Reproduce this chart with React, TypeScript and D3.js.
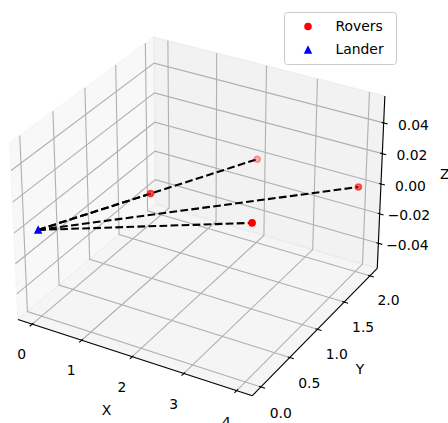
import React from 'react';
import * as d3 from 'd3';

const W = 448;
const H = 423;

// ---- data ----
const roverX = [1, 2, 3, 4];
const roverY = [1, 2, 1, 2];
const roverZ = [0, 0, 0, 0];
const landerX = [0];
const landerY = [0];
const landerZ = [0];
const xTicks = [0, 1, 2, 3, 4];
const yTicks = [0, 0.5, 1, 1.5, 2];
const zTicks = [-0.04, -0.02, 0, 0.02, 0.04];
const legendLabels = ['Rovers', 'Lander'];
const axisNames = ['X', 'Y', 'Z'];

const fmtX = d3.format('d');
const fmtY = d3.format('.1f');
const fmtZ = d3.format('.2f');

// ---- limits like matplotlib 3D autoscale ----
function limits(vals: number[]): [number, number] {
  let [lo, hi] = d3.extent(vals) as [number, number];
  if (hi - lo < 1e-12) {
    lo -= 0.05;
    hi += 0.05;
  }
  const m = (hi - lo) * 0.05;
  lo -= m;
  hi += m;
  const v = (hi - lo) / 48;
  return [lo - v, hi + v];
}

const xlim = limits([...roverX, ...landerX]);
const ylim = limits([...roverY, ...landerY]);
const zlim = limits([...roverZ, ...landerZ]);

// ---- projection (matplotlib-style perspective) ----
const aspect = [4, 4, 3];
const aNorm = Math.hypot(aspect[0], aspect[1], aspect[2]);
const box = aspect.map((a) => (a * 1.8294640721620434) / aNorm);
const sX = d3.scaleLinear().domain(xlim).range([0, box[0]]);
const sY = d3.scaleLinear().domain(ylim).range([0, box[1]]);
const sZ = d3.scaleLinear().domain(zlim).range([0, box[2]]);
const ELEV = (30 * Math.PI) / 180;
const AZIM = (-60 * Math.PI) / 180;
const DIST = 10;
const Rc = box.map((b) => b / 2);
const ps = [Math.cos(ELEV) * Math.cos(AZIM), Math.cos(ELEV) * Math.sin(AZIM), Math.sin(ELEV)];
const eye = Rc.map((r, i) => r + DIST * ps[i]);
const norm3 = (a: number[]) => {
  const n = Math.hypot(a[0], a[1], a[2]);
  return a.map((x) => x / n);
};
const cross = (a: number[], b: number[]) => [
  a[1] * b[2] - a[2] * b[1],
  a[2] * b[0] - a[0] * b[2],
  a[0] * b[1] - a[1] * b[0],
];
const dot = (a: number[], b: number[]) => a[0] * b[0] + a[1] * b[1] + a[2] * b[2];
const wv = norm3(eye.map((e, i) => e - Rc[i]));
const uv = norm3(cross([0, 0, 1], wv));
const vv = cross(wv, uv);

const AX_LEFT = -22.45;
const AX_TOP = -3.4;
const AX_SIZE = 434.75;
const pX = d3.scaleLinear().domain([-0.095, 0.09]).range([AX_LEFT, AX_LEFT + AX_SIZE]);
const pY = d3.scaleLinear().domain([-0.095, 0.09]).range([AX_TOP + AX_SIZE, AX_TOP]);

function project(x: number, y: number, z: number): [number, number, number] {
  const P = [sX(x), sY(y), sZ(z)];
  const d = P.map((p, i) => p - eye[i]);
  const xv = dot(uv, d);
  const yv = dot(vv, d);
  const zv = dot(wv, d);
  return [pX(xv / -zv), pY(yv / -zv), DIST / zv];
}

const [x0, x1] = xlim;
const [y0, y1] = ylim;
const [z0, z1] = zlim;
const centers = [(x0 + x1) / 2, (y0 + y1) / 2, (z0 + z1) / 2];
const deltas = [(x1 - x0) / 12, (y1 - y0) / 12, (z1 - z0) / 12];

function moveFromCenter(p: number[], f: number, skip: number) {
  return p.map((c, i) => (i === skip ? c : c + Math.sign(c - centers[i]) * f * deltas[i]));
}

const pathOf = (pts: number[][]) =>
  'M' + pts.map((p) => { const q = project(p[0], p[1], p[2]); return `${q[0].toFixed(2)},${q[1].toFixed(2)}`; }).join('L');

const FONT = 'DejaVu Sans';
const FS = 13.9;

export default function App() {
  // panes
  const panes = [
    { pts: [[x0, y0, z0], [x0, y1, z0], [x0, y1, z1], [x0, y0, z1]], c: 'rgba(242,242,242,0.5)' },
    { pts: [[x0, y1, z0], [x1, y1, z0], [x1, y1, z1], [x0, y1, z1]], c: 'rgba(230,230,230,0.5)' },
    { pts: [[x0, y0, z0], [x1, y0, z0], [x1, y1, z0], [x0, y1, z0]], c: 'rgba(236,236,236,0.5)' },
  ];

  // grid lines
  const grid: number[][][] = [];
  xTicks.forEach((t) => grid.push([[t, y0, z0], [t, y1, z0], [t, y1, z1]]));
  yTicks.forEach((t) => grid.push([[x0, t, z1], [x0, t, z0], [x1, t, z0]]));
  zTicks.forEach((t) => grid.push([[x1, y1, t], [x0, y1, t], [x0, y0, t]]));

  // axis lines
  const axisLines = [
    [[x0, y0, z0], [x1, y0, z0]],
    [[x1, y0, z0], [x1, y1, z0]],
    [[x1, y1, z0], [x1, y1, z1]],
  ];

  // ticks
  type TickSpec = { p1: number[]; p2: number[]; lab: number[]; text: string; off: [number, number] };
  const ticks: TickSpec[] = [];
  xTicks.forEach((t) => {
    ticks.push({
      p1: [t, y0 + 0.1 * deltas[1], z0],
      p2: [t, y0 - 0.2 * deltas[1], z0],
      lab: moveFromCenter([t, y0, z0], 0.882, 0),
      text: fmtX(t),
      off: [0, 8],
    });
  });
  yTicks.forEach((t) => {
    ticks.push({
      p1: [x1 - 0.1 * deltas[0], t, z0],
      p2: [x1 + 0.2 * deltas[0], t, z0],
      lab: moveFromCenter([x1, t, z0], 0.882, 1),
      text: fmtY(t),
      off: [2, 7],
    });
  });
  zTicks.forEach((t) => {
    ticks.push({
      p1: [x1 - 0.1 * deltas[0], y1, t],
      p2: [x1 + 0.2 * deltas[0], y1, t],
      lab: moveFromCenter([x1, y1, t], 0.882, 2),
      text: fmtZ(t),
      off: [3.5, 5],
    });
  });

  const axisLabelSpecs = [
    { p: moveFromCenter([(x0 + x1) / 2, y0, z0], 1.917, 0), off: [-3, 4] },
    { p: moveFromCenter([x1, (y0 + y1) / 2, z0], 1.917, 1), off: [5, 1] },
    { p: moveFromCenter([x1, y1, (z0 + z1) / 2], 1.917, 2), off: [7.5, -2] },
  ];

  // data projection
  const rovers = roverX.map((x, i) => project(x, roverY[i], roverZ[i]));
  const tzs = rovers.map((r) => r[2]);
  const tzExt = d3.extent(tzs) as [number, number];
  const alphaScale = d3.scaleLinear().domain(tzExt).range([1, 0.3]);
  const landers = landerX.map((x, i) => project(x, landerY[i], landerZ[i]));

  const lineGen = d3.line<[number, number, number]>().x((d) => d[0]).y((d) => d[1]);

  const R_M = 3.1;
  const triPath = (cx: number, cy: number, s: number) =>
    `M${cx},${cy - s}L${cx - s},${cy + s}L${cx + s},${cy + s}Z`;

  return (
    <svg width={W} height={H} style={{ position: 'absolute', left: 0, top: 0, background: '#fff' }} fontFamily={FONT}>
      <rect x={0} y={0} width={W} height={H} fill="#fff" />
      {panes.map((p, i) => (
        <path key={'pane' + i} d={pathOf(p.pts) + 'Z'} fill={p.c} stroke={p.c} strokeWidth={1.39} />
      ))}
      {grid.map((g, i) => (
        <path key={'g' + i} d={pathOf(g)} fill="none" stroke="#b0b0b0" strokeWidth={1.11} />
      ))}
      {axisLines.map((a, i) => (
        <path key={'ax' + i} d={pathOf(a)} fill="none" stroke="#000" strokeWidth={1.11} />
      ))}
      {ticks.map((t, i) => {
        const a = project(t.p1[0], t.p1[1], t.p1[2]);
        const b = project(t.p2[0], t.p2[1], t.p2[2]);
        const l = project(t.lab[0], t.lab[1], t.lab[2]);
        return (
          <g key={'t' + i}>
            <line x1={a[0]} y1={a[1]} x2={b[0]} y2={b[1]} stroke="#000" strokeWidth={1.11} />
            <text x={l[0] + t.off[0]} y={l[1] + t.off[1] + 5.06} fontSize={FS} textAnchor="middle" fill="#000">
              {t.text}
            </text>
          </g>
        );
      })}
      {axisLabelSpecs.map((s, i) => {
        const l = project(s.p[0], s.p[1], s.p[2]);
        return (
          <text key={'al' + i} x={l[0] + s.off[0]} y={l[1] + s.off[1] + 5.06} fontSize={FS} textAnchor="middle" fill="#000">
            {axisNames[i]}
          </text>
        );
      })}
      {/* dashed connection lines */}
      {rovers.map((r, i) => (
        <path
          key={'ln' + i}
          d={lineGen([landers[0], r]) || ''}
          fill="none"
          stroke="#000"
          strokeWidth={2.08}
          strokeDasharray="7.71,3.33"
        />
      ))}
      {/* rovers */}
      {rovers.map((r, i) => (
        <circle
          key={'rv' + i}
          cx={r[0]}
          cy={r[1]}
          r={R_M}
          fill="#ff0000"
          fillOpacity={alphaScale(r[2])}
          stroke="#ff0000"
          strokeOpacity={alphaScale(r[2])}
          strokeWidth={1.39}
        />
      ))}
      {/* lander */}
      {landers.map((l, i) => (
        <path key={'ld' + i} d={triPath(l[0], l[1], R_M)} fill="#0000ff" stroke="#0000ff" strokeWidth={1.39} />
      ))}
      {/* legend */}
      <g>
        <rect x={284.5} y={12.5} width={112} height={52} rx={2.8} fill="#fff" fillOpacity={0.8} stroke="#cccccc" strokeWidth={1} />
        <circle cx={308} cy={26.5} r={R_M} fill="#ff0000" stroke="#ff0000" strokeWidth={1.39} />
        <path d={triPath(308, 50, R_M)} fill="#0000ff" stroke="#0000ff" strokeWidth={1.39} />
        <text x={335.5} y={30.9} fontSize={FS} fill="#000">{legendLabels[0]}</text>
        <text x={335.5} y={54.2} fontSize={FS} fill="#000">{legendLabels[1]}</text>
      </g>
    </svg>
  );
}
